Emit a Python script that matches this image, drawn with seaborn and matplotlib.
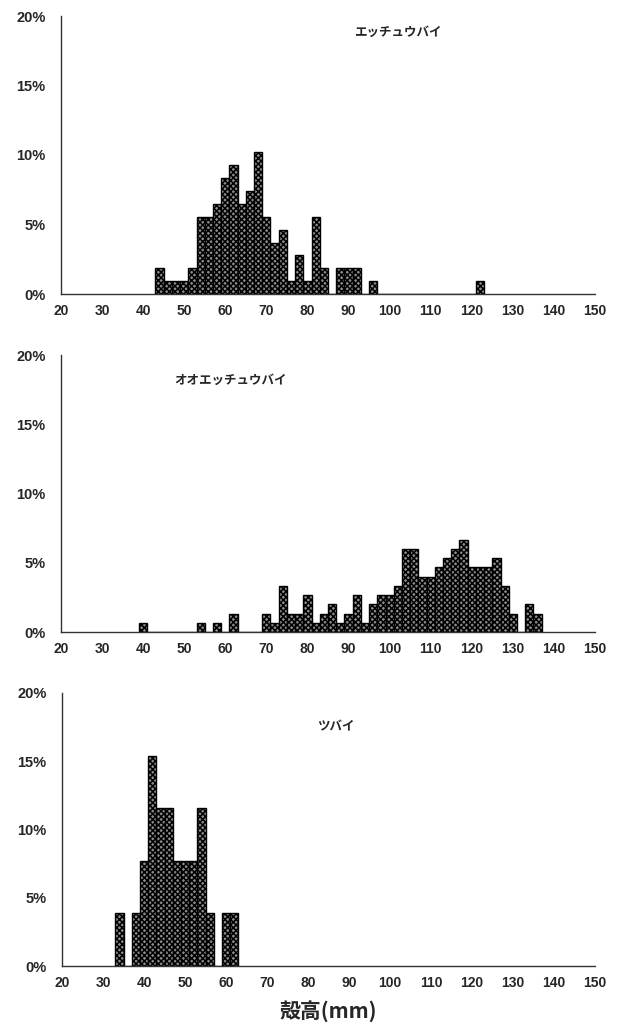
import numpy as np
import pandas as pd
import matplotlib
matplotlib.use("Agg")
import matplotlib.pyplot as plt
import seaborn as sns

# Shell-height frequency (%) per 2 mm class, keyed by class centre (mm)
species = ["エッチュウバイ", "オオエッチュウバイ", "ツバイ"]

etchu_size = [44, 46, 48, 50, 52, 54, 56, 58, 60, 62, 64, 66, 68, 70, 72, 74,
              76, 78, 80, 82, 84, 88, 90, 92, 96, 122]
etchu_pct = [1.85, 0.93, 0.93, 0.93, 1.85, 5.56, 5.56, 6.48, 8.33, 9.26, 6.48,
             7.41, 10.19, 5.56, 3.70, 4.63, 0.93, 2.78, 0.93, 5.56, 1.85, 1.85,
             1.85, 1.85, 0.93, 0.93]

oo_size = [40, 54, 58, 62, 70, 72, 74, 76, 78, 80, 82, 84, 86, 88, 90, 92, 94,
           96, 98, 100, 102, 104, 106, 108, 110, 112, 114, 116, 118, 120, 122,
           124, 126, 128, 130, 134, 136]
oo_pct = [0.67, 0.67, 0.67, 1.33, 1.33, 0.67, 3.33, 1.33, 1.33, 2.67, 0.67,
          1.33, 2.00, 0.67, 1.33, 2.67, 0.67, 2.00, 2.67, 2.67, 3.33, 6.00,
          6.00, 4.00, 4.00, 4.67, 5.33, 6.00, 6.67, 4.67, 4.67, 4.67, 5.33,
          3.33, 1.33, 2.00, 1.33]

tsubai_size = [34, 38, 40, 42, 44, 46, 48, 50, 52, 54, 56, 60, 62]
tsubai_pct = [3.85, 3.85, 7.69, 15.38, 11.54, 11.54, 7.69, 7.69, 7.69, 11.54,
              3.85, 3.85, 3.85]

size_ticks = list(range(20, 151, 10))
pct_ticks = [0, 5, 10, 15, 20]
pct_labels = ["0%", "5%", "10%", "15%", "20%"]
x_label = "殻高(mm)"

panels = [
    (species[0], etchu_size, etchu_pct),
    (species[1], oo_size, oo_pct),
    (species[2], tsubai_size, tsubai_pct),
]

sns.set_theme(style="white")
plt.rcParams["font.family"] = ["Liberation Sans", "Noto Sans CJK JP", "DejaVu Sans"]
plt.rcParams["hatch.linewidth"] = 1.1

W, H = 618, 1026
fig = plt.figure(figsize=(W / 100, H / 100), dpi=100)

# axes boxes in pixels: (left, top, right, bottom)
boxes = [(61, 16, 595, 294), (61, 355, 595, 632), (62, 693, 595, 966)]
title_pos = [(0.63, 0.94), (0.318, 0.91), (0.513, 0.875)]

for (name, sizes, pcts), (l, t, r, b), (tx, ty) in zip(panels, boxes, title_pos):
    ax = fig.add_axes([l / W, (H - b) / H, (r - l) / W, (b - t) / H])
    df = pd.DataFrame({"size": sizes, "pct": pcts})
    sns.histplot(data=df, x="size", weights="pct", binwidth=2,
                 binrange=(min(sizes) - 1, max(sizes) + 1), stat="count",
                 ax=ax, color="#8c8c8c", edgecolor="black", linewidth=1.0,
                 alpha=1.0)
    for p in ax.patches:
        p.set_hatch("xxxxxx")
    ax.set_xlim(20, 150)
    ax.set_ylim(0, 20)
    ax.set_xticks(size_ticks)
    ax.set_xticklabels([str(v) for v in size_ticks])
    ax.set_yticks(pct_ticks)
    ax.set_yticklabels(pct_labels)
    ax.set_xlabel("")
    ax.set_ylabel("")
    for s in ["top", "right"]:
        ax.spines[s].set_visible(False)
    for s in ["left", "bottom"]:
        ax.spines[s].set_color("#333333")
        ax.spines[s].set_linewidth(1.0)
    ax.tick_params(axis="x", direction="in", length=3, width=0.8, color="#333333",
                   pad=7, labelsize=10)
    ax.tick_params(axis="y", direction="in", length=5, width=0.8, color="#333333",
                   pad=11, labelsize=10.5)
    for lab in ax.get_xticklabels() + ax.get_yticklabels():
        lab.set_fontweight("bold")
    ax.text(tx, ty, name, transform=ax.transAxes, ha="center", va="center",
            fontsize=9, fontweight="bold",
            family=["Noto Sans CJK JP", "DejaVu Sans"])

fig.text(328 / W, 1 - 1011 / H, x_label, ha="center", va="center", fontsize=15,
         fontweight="bold", family=["Noto Sans CJK JP", "DejaVu Sans"])

fig.savefig("out.png", dpi=100)
